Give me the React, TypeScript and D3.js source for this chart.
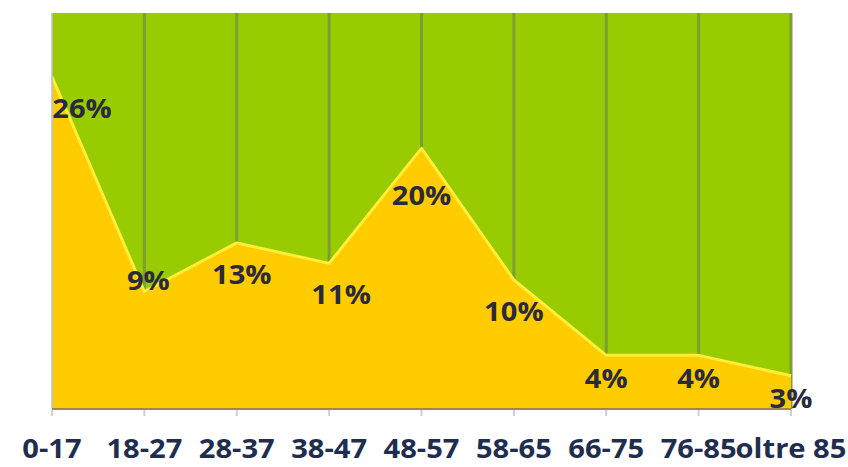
import React, { useEffect, useRef } from 'react';
import * as d3 from 'd3';

// age groups and share of people per group (%)
const categories = ['0-17', '18-27', '28-37', '38-47', '48-57', '58-65', '66-75', '76-85', 'oltre 85'];
const shares = [26.0, 9.2, 13.0, 11.4, 20.4, 10.1, 4.2, 4.2, 2.6];
const yMax = 31;

const App: React.FC = () => {
  const chartRef = useRef<SVGSVGElement>(null);

  useEffect(() => {
    if (!chartRef.current) return;
    const width = 848;
    const height = 467;
    const margin = { top: 13, right: 57, bottom: 58, left: 52 };

    const svg = d3.select(chartRef.current).attr('width', width).attr('height', height);
    svg.selectAll('*').remove();

    const x = d3
      .scalePoint<string>()
      .domain(categories)
      .range([margin.left, width - margin.right]);
    const y = d3
      .scaleLinear()
      .domain([0, yMax])
      .range([height - margin.bottom, margin.top]);

    const data = categories.map((c, i) => ({ cat: c, v: shares[i] }));
    const x0 = margin.left;
    const x1 = width - margin.right;
    const yb = y(0);

    // green plot background
    svg
      .append('rect')
      .attr('x', x0)
      .attr('y', margin.top)
      .attr('width', x1 - x0)
      .attr('height', yb - margin.top)
      .attr('fill', '#99cc00');

    // vertical grid lines
    svg
      .append('g')
      .selectAll('line')
      .data(categories.slice(1))
      .join('line')
      .attr('x1', (d) => x(d)!)
      .attr('x2', (d) => x(d)!)
      .attr('y1', margin.top)
      .attr('y2', yb)
      .attr('stroke', '#7d9d35')
      .attr('stroke-width', 3);

    const area = d3
      .area<{ cat: string; v: number }>()
      .x((d) => x(d.cat)!)
      .y0(yb)
      .y1((d) => y(d.v));

    svg.append('path').datum(data).attr('fill', '#ffcc00').attr('d', area);

    const line = d3
      .line<{ cat: string; v: number }>()
      .x((d) => x(d.cat)!)
      .y((d) => y(d.v));

    svg
      .append('path')
      .datum(data)
      .attr('fill', 'none')
      .attr('stroke', '#ffee3a')
      .attr('stroke-width', 3)
      .attr('stroke-linejoin', 'round')
      .attr('d', line);

    // left axis line
    svg
      .append('line')
      .attr('x1', x0)
      .attr('x2', x0)
      .attr('y1', margin.top)
      .attr('y2', yb)
      .attr('stroke', '#b4c2d6')
      .attr('stroke-width', 1.5);

    // bottom axis
    svg
      .append('line')
      .attr('x1', x0)
      .attr('x2', x1)
      .attr('y1', yb)
      .attr('y2', yb)
      .attr('stroke', '#a08845')
      .attr('stroke-width', 2);

    svg
      .append('g')
      .selectAll('line')
      .data(categories)
      .join('line')
      .attr('x1', (d) => x(d)!)
      .attr('x2', (d) => x(d)!)
      .attr('y1', yb + 1)
      .attr('y2', yb + 7)
      .attr('stroke', '#c9d1dd')
      .attr('stroke-width', 2);

    svg
      .append('g')
      .selectAll('g')
      .data(categories)
      .join('g')
      .attr('transform', (d) => `translate(${x(d)},${yb + 49}) scale(1.12,1)`)
      .append('text')
      .attr('text-anchor', 'middle')
      .attr('font-family', 'Open Sans')
      .attr('font-weight', 'bold')
      .attr('font-size', 26)
      .attr('fill', '#1f2d4f')
      .text((d) => d);

    // data labels, with a few nudges like the original
    const nudge: Record<string, [number, number]> = {
      '0-17': [30, 0],
      '18-27': [4, -42],
      '28-37': [5, 0],
      '38-47': [12, 0],
      '48-57': [0, 16],
      '66-75': [0, -8],
      '76-85': [0, -8],
      'oltre 85': [0, -9],
    };

    svg
      .append('g')
      .selectAll('g')
      .data(data)
      .join('g')
      .attr('transform', (d) => {
        const [dx, dy] = nudge[d.cat] || [0, 0];
        return `translate(${x(d.cat)! + dx},${y(d.v) + 41 + dy}) scale(1.12,1)`;
      })
      .append('text')
      .attr('text-anchor', 'middle')
      .attr('font-family', 'Open Sans')
      .attr('font-weight', 'bold')
      .attr('font-size', 26)
      .attr('fill', '#2b2a3c')
      .text((d) => `${Math.round(d.v)}%`);
  }, []);

  return <svg ref={chartRef} style={{ position: 'absolute', left: 0, top: 0 }}></svg>;
};

export default App;
